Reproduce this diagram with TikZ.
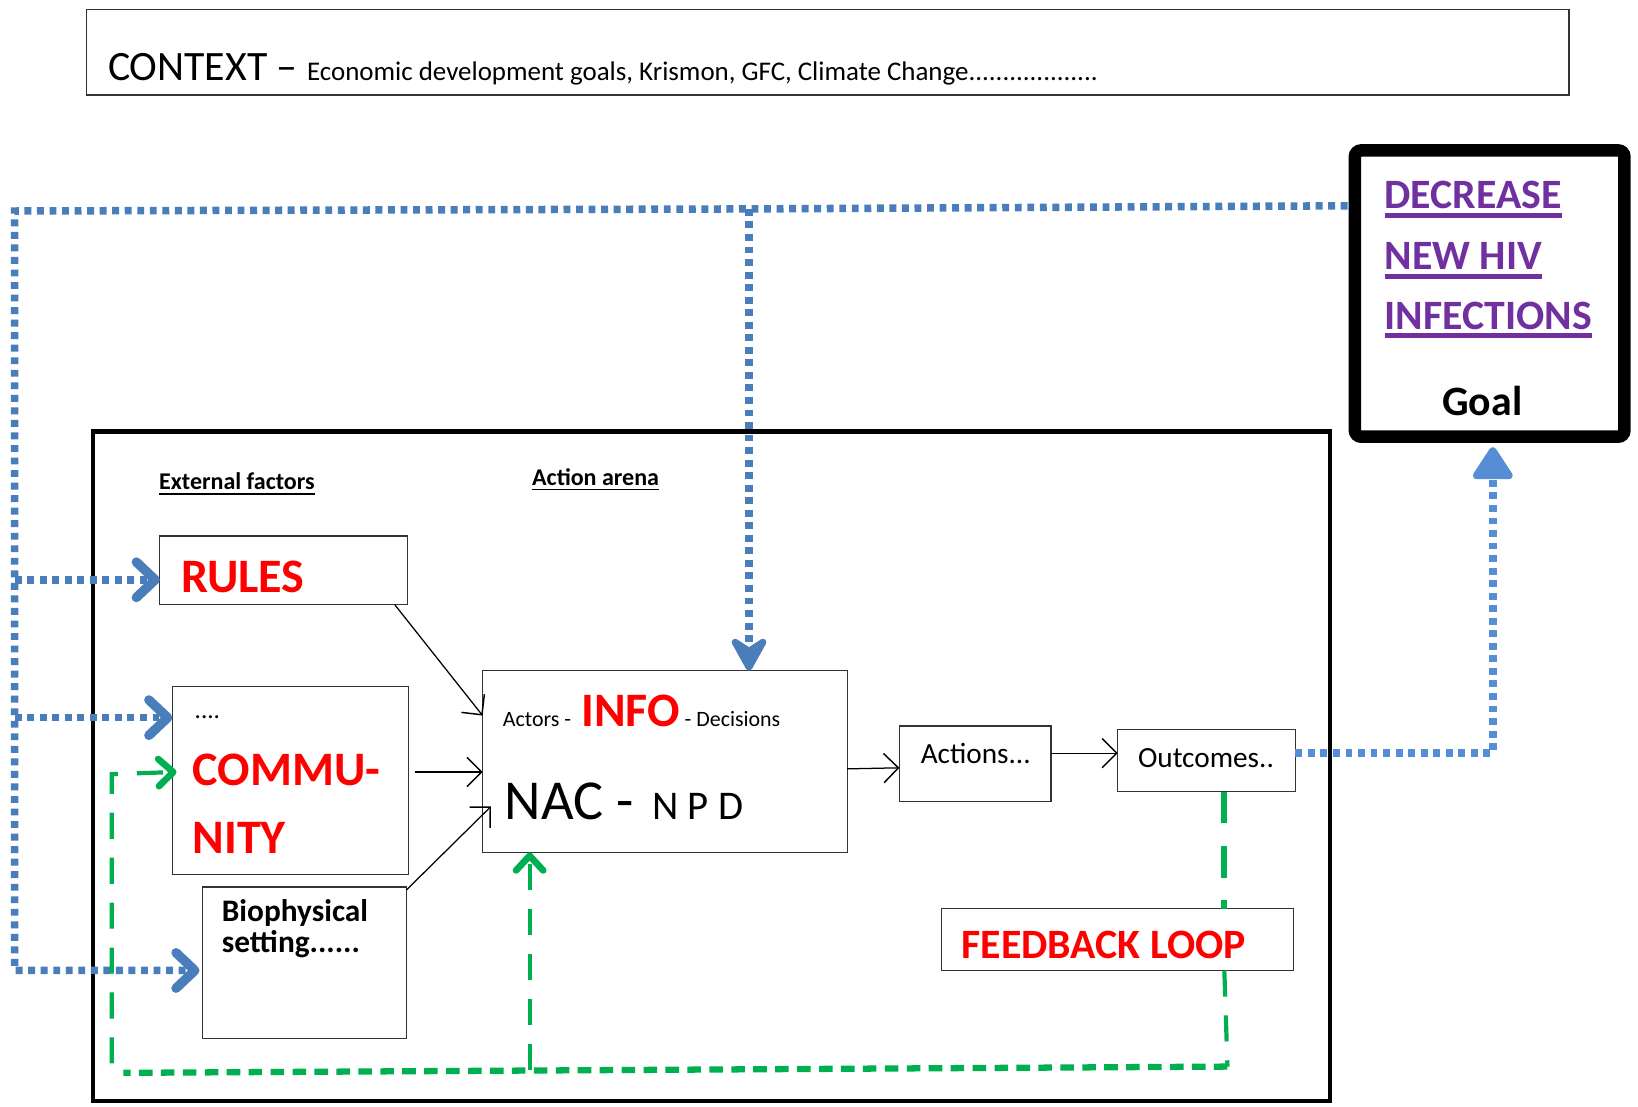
\documentclass[tikz,border=0pt]{standalone}
\usepackage{fontspec}
\setmainfont{Carlito}
\usetikzlibrary{arrows.meta}

\definecolor{linkblue}{RGB}{74,126,187}
\definecolor{goalblue}{RGB}{85,142,213}
\definecolor{loopgreen}{RGB}{0,176,80}
\definecolor{goalpurple}{RGB}{112,48,160}
\definecolor{alertred}{RGB}{255,0,0}

% text with a rule under it: #1 rule thickness, #2 depth of the rule bottom, #3 text
\newcommand\ulbar[3]{\setbox0\hbox{#3}\rlap{\rule[-#2]{\wd0}{#1}}\box0}
\newcommand\fsz[1]{\fontsize{#1}{#1}\selectfont}

\tikzset{
  box/.style={draw=black!80, line width=0.6pt, fill=white, inner sep=0pt, outer sep=0pt, anchor=north west},
  lbl/.style={inner sep=0pt, anchor=base west},
  flow/.style={draw=black, line width=0.6pt, -{Straight Barb[length=7pt,width=14pt,line width=0.7pt]}},
  bluelink/.style={draw=linkblue, line width=3.6pt, dash pattern=on 3.3pt off 2.7pt},
  bluebarb/.style={-{Straight Barb[length=9pt,width=17pt,line width=4.5pt,round]}},
  greenlong/.style={draw=loopgreen, line width=2pt, dash pattern=on 12.5pt off 9pt},
  greenstub/.style={draw=loopgreen, line width=3pt, dash pattern=on 15pt off 11pt},
  greenshort/.style={draw=loopgreen, line width=3pt, dash pattern=on 6.5pt off 4pt},
  greenbarb/.style={-{Straight Barb[length=7pt,width=13pt,line width=3.2pt,round]}},
}

\begin{document}
\begin{tikzpicture}[x=0.5pt,y=-0.5pt]
\useasboundingbox[fill=white] (0,0) rectangle (1568,1059);

% ---- boxes ----
\node[box, line width=0.7pt, minimum width=709.5pt, minimum height=41pt] (context) at (83,9) {};
\node[draw=black, fill=white, line width=6pt, rounded corners=3pt, inner sep=0pt,
      anchor=north west, minimum width=129pt, minimum height=137pt] (goal) at (1291,138) {};
\node[draw=black, line width=2pt, inner sep=0pt, outer sep=0pt, anchor=north west,
      minimum width=592pt, minimum height=320.5pt] (arena) at (89,413) {};
\node[box, minimum width=118.5pt, minimum height=33pt] (rules) at (153,513) {};
\node[box, minimum width=113pt, minimum height=90pt] (community) at (165,657) {};
\node[box, minimum width=97.5pt, minimum height=72.5pt] (bio) at (194,849) {};
\node[box, minimum width=174.5pt, minimum height=87pt] (nac) at (462,642) {};
\node[box, minimum width=72.5pt, minimum height=36pt] (actions) at (861,695) {};
\node[box, minimum width=85pt, minimum height=30pt] (outcomes) at (1070,698) {};
\node[box, minimum width=168.5pt, minimum height=29.5pt] (feedback) at (901,870) {};

% ---- texts ----
\node[lbl] (ctxtext) at (103,77)
  {\fsz{20}CONTEXT – \fsz{12.9}Economic development goals, Krismon, GFC, Climate Change...................};

\node[lbl, text=goalpurple] (goal1) at (1325,200) {\fsz{20}\bfseries\ulbar{2.5pt}{4.5pt}{DECREASE}};
\node[lbl, text=goalpurple] (goal2) at (1325,258) {\fsz{20}\bfseries\ulbar{2.5pt}{4.5pt}{NEW HIV}};
\node[lbl, text=goalpurple] (goal3) at (1325,315) {\fsz{20}\bfseries\ulbar{2.5pt}{4.5pt}{INFECTIONS}};
\node[inner sep=0pt, anchor=base] (goalword) at (1419,398) {\fsz{20}\bfseries Goal};

\node[lbl] (extlabel) at (152,469) {\fsz{11.5}\bfseries\ulbar{0.8pt}{2.2pt}{External factors}};
\node[lbl] (arenalabel) at (509,465) {\fsz{11.5}\bfseries\ulbar{0.8pt}{2.2pt}{Action arena}};

\node[lbl, text=alertred] (rulestext) at (173,567) {\fsz{23}\bfseries RULES};
\node[lbl] (commdots) at (186,688) {\fsz{12}....};
\node[lbl, text=alertred] (comm1) at (184,752) {\fsz{23}\bfseries COMMU-};
\node[lbl, text=alertred] (comm2) at (184,817) {\fsz{23}\bfseries NITY};
\node[lbl] (bio1) at (212,882) {\fsz{15}\bfseries Biophysical};
\node[lbl] (bio2) at (212,912) {\fsz{15}\bfseries setting......};

\node[lbl] (actors) at (481,695) {\fsz{10.5}Actors -};
\node[lbl, text=alertred] (info) at (556,695) {\fsz{23}\bfseries INFO};
\node[lbl] (decisions) at (655,695) {\fsz{10.5}- Decisions};
\node[lbl] (nactext) at (483,784) {\fsz{27}NAC -};
\node[lbl] (npd) at (624,784) {\fsz{19.5}N P D};

\node[lbl] (actionstext) at (881,731) {\fsz{14}Actions...};
\node[lbl] (outcomestext) at (1089,735) {\fsz{14}Outcomes..};
\node[lbl, text=alertred] (feedbacktext) at (920,918) {\fsz{20}\bfseries FEEDBACK LOOP};

% ---- black flows into and out of the action arena ----
\draw[flow] ([xshift=-6pt]rules.south east) -- ([yshift=22pt]nac.west);
\draw[flow] ([xshift=3pt,yshift=4pt]community.east) -- ([yshift=-5pt]nac.west);
\draw[flow] ([yshift=-1.5pt]bio.north east) -- ([xshift=4pt,yshift=-21.5pt]nac.west);
\draw[flow] ([yshift=-3.5pt]nac.east) -- ([yshift=-2pt]actions.west);
\draw[flow] ([yshift=5pt]actions.east) -- ([yshift=3.5pt]outcomes.west);

% ---- blue links from the goal back to the external factors ----
\coordinate (topleft) at (14,202);
\coordinate (junction) at (717,200);
\coordinate (goalin) at (1290,197);
\coordinate (rulesin) at ([yshift=-4.5pt]rules.west);
\coordinate (commin) at ([yshift=30pt]community.west);
\coordinate (bioin) at ([xshift=-1.5pt,yshift=-3.75pt]bio.west);
\draw[bluelink, bluebarb] (goalin) -- (junction) -- (topleft)
  -- (topleft |- bioin) -- (bioin);
\draw[bluelink, bluebarb] (topleft |- rulesin) -- (rulesin);
\draw[bluelink, bluebarb] (topleft |- commin) -- (commin);
\draw[bluelink, -{Stealth[length=20pt,width=22pt,inset=7pt,round]}] (junction) -- (junction |- nac.north);

% ---- outcomes up to the goal ----
\coordinate (goalturn) at (1429,721);
\draw[bluelink, draw=goalblue, -{Triangle[length=17pt,width=21pt,round]}, shorten >=2pt]
  ([yshift=3.5pt]outcomes.east) -- (goalturn) -- (goalturn |- goal.south);

% ---- green feedback loop ----
\coordinate (loopx) at (1172,0);
\coordinate (loopbr) at (1175,1021);
\coordinate (loopbl) at (118,1027);
\coordinate (loopleft) at (107,1018);
\coordinate (loopup) at (107,741);
\coordinate (nacup) at (507,1024);
\coordinate (commloop) at ([xshift=2pt,yshift=4pt]community.west);
\draw[greenstub] (loopx |- outcomes.south) -- (loopx |- feedback.north);
\draw[greenlong] (loopx |- feedback.south) -- (loopbr);
\draw[greenshort] (loopbr) -- (loopbl);
\draw[greenlong, greenbarb] (loopleft) -- (loopup) -- (commloop);
\draw[greenlong, greenbarb] (nacup) -- (nacup |- nac.south);
\end{tikzpicture}
\end{document}
